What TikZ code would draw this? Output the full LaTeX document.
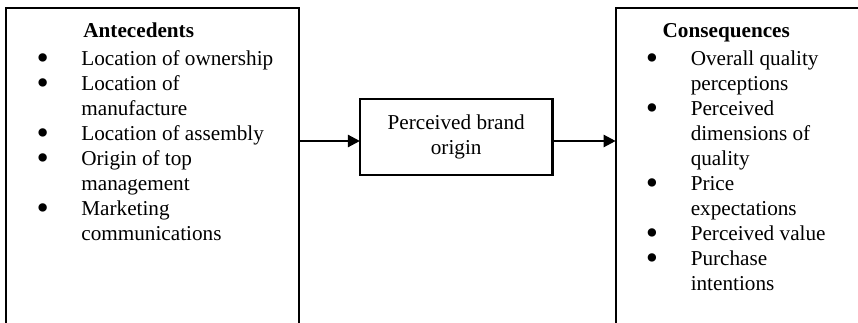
\documentclass[tikz,border=0pt]{standalone}
\usepackage{fontspec}
\setmainfont{Liberation Serif}
\usepackage{graphicx}
\usetikzlibrary{arrows.meta}

\newcommand{\pxu}{0.566pt}
\newcommand{\bul}{\makebox[21.9pt][l]{\makebox[0pt]{\raisebox{-2.7pt}{\scalebox{1.65}{\textbullet}}}}}
\newcommand{\cont}{\hspace{21.9pt}}

\tikzset{
  box/.style={draw, line width=1.2pt, outer sep=0pt, inner sep=0pt},
  txt/.style={inner sep=0pt, anchor=base west, font=\fontsize{12}{14.15}\selectfont},
  conn/.style={line width=1.3pt, -{Triangle[length=6.8pt,width=6.8pt]}}
}

\begin{document}
\begin{tikzpicture}[x=\pxu, y=-\pxu]
\useasboundingbox (0,0) rectangle (858,322);
\clip (0,0) rectangle (858,322);
\node[box, anchor=north west, minimum width=292.8*\pxu, minimum height=340*\pxu] (antbox) at (6.2,8.3) {};
\node[box, anchor=north west, minimum width=300*\pxu, minimum height=340*\pxu] (conbox) at (615.7,8.3) {};
\node[box, minimum width=192.5*\pxu, minimum height=75.7*\pxu, align=center, font=\fontsize{12}{14.15}\selectfont] (brand) at (456.2,137.2) {Perceived brand\\origin};
\node[txt] (anthead) at (83,37) {\textbf{Antecedents}};
\node[txt] (antlist) at (42.3,65) {\begin{tabular}[t]{@{}l@{}}
\bul Location of ownership\\
\bul Location of\\
\cont manufacture\\
\bul Location of assembly\\
\bul Origin of top\\
\cont management\\
\bul Marketing\\
\cont communications
\end{tabular}};
\node[txt] (conhead) at (662.3,37) {\textbf{Consequences}};
\node[txt] (conlist) at (651.7,65) {\begin{tabular}[t]{@{}l@{}}
\bul Overall quality\\
\cont perceptions\\
\bul Perceived\\
\cont dimensions of\\
\cont quality\\
\bul Price\\
\cont expectations\\
\bul Perceived value\\
\bul Purchase\\
\cont intentions
\end{tabular}};
\coordinate (lvl) at (0,141);
\draw[conn] (antbox.east |- lvl) -- (brand.west |- lvl);
\draw[conn] (brand.east |- lvl) -- (conbox.west |- lvl);
\end{tikzpicture}
\end{document}
